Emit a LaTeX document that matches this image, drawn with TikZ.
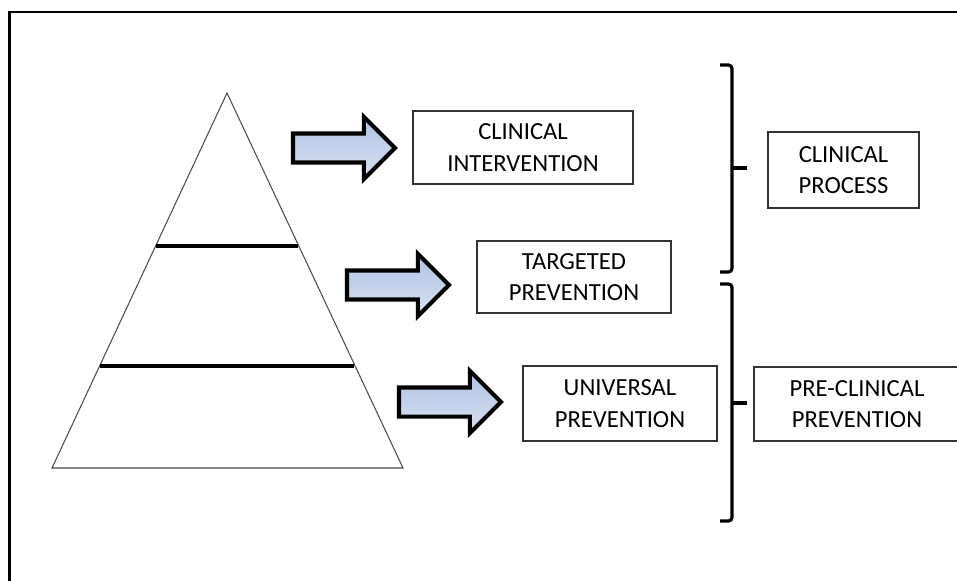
\documentclass[tikz,border=0pt]{standalone}
\usepackage{fontspec}
\setmainfont{Carlito}
\usetikzlibrary{shapes.arrows}

\definecolor{arrowtop}{RGB}{176,195,229}
\definecolor{arrowbot}{RGB}{214,224,242}

\tikzset{
  labelbox/.style={draw=black!80, line width=0.7pt, align=center,
    font=\fontsize{14}{18}\selectfont, text=black, inner sep=0pt},
  blockarrow/.style={single arrow, draw=black, line width=2.3pt,
    top color=arrowtop, bottom color=arrowbot,
    minimum height=2.04cm, minimum width=1.16cm,
    single arrow head extend=0.33cm, inner sep=0.25cm,
    outer sep=0pt, anchor=tail},
  tierline/.style={line width=2.3pt},
  bracket/.style={line width=1.8pt, rounded corners=2pt},
}

\begin{document}
\begin{tikzpicture}[x=0.02cm, y=-0.02cm]

\useasboundingbox (0,0) rectangle (957,581);
\clip (0,0) rectangle (957,581);

% frame
\draw[line width=1.25pt] (9.5,600) -- (9.5,12) -- (970,12);

% pyramid
\draw[draw=black!70, line width=0.6pt] (227,93) -- (403,468) -- (52,468) -- cycle;
\draw[tierline] (155.6,246) -- (298.4,246);
\draw[tierline] (99.6,366) -- (354.4,366);

% arrows
\node[blockarrow] (arrtop) at (293,148) {};
\node[blockarrow] (arrmid) at (347,285) {};
\node[blockarrow] (arrlow) at (399,402) {};

% boxes
\node[labelbox, minimum width=4.4cm, minimum height=1.46cm] (clinint) at (523,147.5)
  {CLINICAL\\INTERVENTION};
\node[labelbox, minimum width=3.88cm, minimum height=1.44cm] (targprev) at (574,277)
  {TARGETED\\PREVENTION};
\node[labelbox, minimum width=3.88cm, minimum height=1.5cm] (univprev) at (620,403.5)
  {UNIVERSAL\\PREVENTION};

% brackets
\draw[bracket] (720,65) -- (732,65) -- (732,272) -- (720,272);
\draw[bracket] (732,168) -- (747,168);
\draw[bracket] (720,284) -- (732,284) -- (732,521) -- (720,521);
\draw[bracket] (732,403) -- (747,403);

\node[labelbox, minimum width=3.02cm, minimum height=1.52cm] (clinproc) at (843.5,170)
  {CLINICAL\\PROCESS};
\node[labelbox, minimum width=4.12cm, minimum height=1.48cm] (preclin) at (857,404)
  {PRE-CLINICAL\\PREVENTION};

\end{tikzpicture}
\end{document}
